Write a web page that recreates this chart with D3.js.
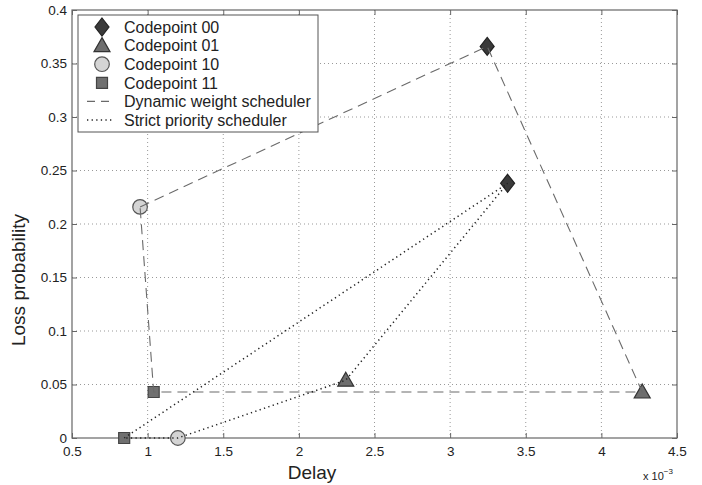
<!DOCTYPE html>
<html>
<head>
<meta charset="utf-8">
<script src="https://cdn.jsdelivr.net/npm/d3@7"></script>
<style>
  body { margin: 0; background: #fff; }
  text { font-family: "Liberation Sans", Arial, Helvetica, sans-serif; fill: #222; }
</style>
</head>
<body>
<script>
// data (delay in units of 1e-3 s)
var codepoints = ["Codepoint 00", "Codepoint 01", "Codepoint 10", "Codepoint 11"];
var dynDelay = [3.245, 4.27, 0.95, 1.04];
var dynLoss = [0.366, 0.043, 0.216, 0.043];
var strictDelay = [3.38, 2.31, 1.2, 0.845];
var strictLoss = [0.238, 0.054, 0, 0];
var dynOrder = [2, 0, 1, 3, 2];      // closed outline for dynamic weight scheduler
var strictOrder = [3, 0, 1, 2, 3];   // closed outline for strict priority scheduler
var xTicks = [0.5, 1, 1.5, 2, 2.5, 3, 3.5, 4, 4.5];
var yTicks = [0, 0.05, 0.1, 0.15, 0.2, 0.25, 0.3, 0.35, 0.4];
var legendLines = ["Dynamic weight scheduler", "Strict priority scheduler"];

var def_width = 702, def_height = 485;
var margin = {top: 10, right: 25, bottom: 47, left: 72},
    width = def_width - margin.left - margin.right,
    height = def_height - margin.top - margin.bottom;

var svg = d3.select("body").append("svg").attr("width", def_width).attr("height", def_height);
var g = svg.append("g").attr("transform", "translate(" + margin.left + "," + margin.top + ")");

var x = d3.scaleLinear().domain([0.5, 4.5]).range([0, width]),
    y = d3.scaleLinear().domain([0, 0.4]).range([height, 0]);

var fmt = function(d) { return d === 0 ? "0" : String(d); };

// grid
g.append("g").selectAll("line").data(xTicks.slice(1, -1)).enter().append("line")
  .attr("x1", function(d) { return x(d); }).attr("x2", function(d) { return x(d); })
  .attr("y1", 0).attr("y2", height)
  .style("stroke", "#999").style("stroke-width", 1).style("stroke-dasharray", "1,3");
g.append("g").selectAll("line").data(yTicks.slice(1, -1)).enter().append("line")
  .attr("y1", function(d) { return y(d); }).attr("y2", function(d) { return y(d); })
  .attr("x1", 0).attr("x2", width)
  .style("stroke", "#999").style("stroke-width", 1).style("stroke-dasharray", "1,3");

// axes (ticks inside, matlab style)
g.append("g").attr("transform", "translate(0," + height + ")")
  .call(d3.axisBottom(x).tickValues(xTicks).tickFormat(fmt).tickSizeInner(-5).tickSizeOuter(0).tickPadding(8));
g.append("g")
  .call(d3.axisLeft(y).tickValues(yTicks).tickFormat(fmt).tickSizeInner(-5).tickSizeOuter(0).tickPadding(5));
g.append("g").call(d3.axisTop(x).tickValues(xTicks).tickFormat("").tickSizeInner(-5).tickSizeOuter(0));
g.append("g").attr("transform", "translate(" + width + ",0)")
  .call(d3.axisRight(y).tickValues(yTicks).tickFormat("").tickSizeInner(-5).tickSizeOuter(0));
g.selectAll(".domain").remove();
g.selectAll(".tick line").style("stroke", "#666");
g.selectAll(".tick text").style("font-size", "13.5px").style("fill", "#222");

g.append("rect").attr("width", width).attr("height", height)
  .style("fill", "none").style("stroke", "#666").style("stroke-width", 1.2);

// markers
var symPath = function(i) {
  if (i === 0) return "M0,-9L7,0L0,9L-7,0Z";
  if (i === 1) return "M0,-8L8,6L-8,6Z";
  if (i === 2) return d3.symbol().type(d3.symbolCircle).size(Math.PI * 7.3 * 7.3)();
  return "M-5.5,-5.5H5.5V5.5H-5.5Z";
};
var symFill = ["#3a3a3a", "#6e6e6e", "#d4d4d4", "#707070"];
var symStroke = ["#222", "#333", "#555", "#444"];

var pts = [];
codepoints.forEach(function(c, i) {
  pts.push({i: i, dx: dynDelay[i], dy: dynLoss[i]});
  pts.push({i: i, dx: strictDelay[i], dy: strictLoss[i]});
});

g.selectAll(".mark").data(pts).enter().append("path")
  .attr("class", "mark")
  .attr("transform", function(d) { return "translate(" + x(d.dx) + "," + y(d.dy) + ")"; })
  .attr("d", function(d) { return symPath(d.i); })
  .style("fill", function(d) { return symFill[d.i]; })
  .style("stroke", function(d) { return symStroke[d.i]; })
  .style("stroke-width", 1.2);

// scheduler outlines
var line = d3.line().x(function(d) { return x(d[0]); }).y(function(d) { return y(d[1]); });
g.append("path")
  .datum(dynOrder.map(function(k) { return [dynDelay[k], dynLoss[k]]; }))
  .attr("d", line)
  .style("fill", "none").style("stroke", "#6a6a6a").style("stroke-width", 1.1)
  .style("stroke-dasharray", "10,6");
g.append("path")
  .datum(strictOrder.map(function(k) { return [strictDelay[k], strictLoss[k]]; }))
  .attr("d", line)
  .style("fill", "none").style("stroke", "#222").style("stroke-width", 1.5)
  .style("stroke-dasharray", "1.3,3.3");

// legend
var lg = g.append("g").attr("transform", "translate(6,5)");
lg.append("rect").attr("width", 240).attr("height", 117)
  .style("fill", "#fff").style("stroke", "#555").style("stroke-width", 1);
var rowY = function(k) { return 12 + k * 18.6; };
codepoints.forEach(function(c, i) {
  lg.append("path").attr("transform", "translate(24," + rowY(i) + ")")
    .attr("d", symPath(i))
    .style("fill", symFill[i]).style("stroke", symStroke[i]).style("stroke-width", 1.2);
  lg.append("text").attr("x", 46).attr("y", rowY(i)).attr("dy", "0.36em")
    .style("font-size", "16px").text(c);
});
legendLines.forEach(function(t, k) {
  var yy = rowY(4 + k);
  lg.append("line").attr("x1", 9).attr("x2", 35).attr("y1", yy).attr("y2", yy)
    .style("stroke", k === 0 ? "#6a6a6a" : "#222")
    .style("stroke-width", k === 0 ? 1.1 : 1.5)
    .style("stroke-dasharray", k === 0 ? "8,6" : "1.3,3.3");
  lg.append("text").attr("x", 46).attr("y", yy).attr("dy", "0.36em")
    .style("font-size", "16px").text(t);
});

// axis titles (placed as in the figure, not centred on the axes)
svg.append("text").attr("x", 312).attr("y", 479)
  .attr("text-anchor", "middle").style("font-size", "19px").text("Delay");
svg.append("text").attr("transform", "translate(25,280) rotate(-90)")
  .attr("text-anchor", "middle").style("font-size", "19px").text("Loss probability");

var sci = svg.append("text").attr("x", 643).attr("y", 480).style("font-size", "11px");
sci.append("tspan").text("x 10");
sci.append("tspan").attr("dy", -6).style("font-size", "8px").text("\u22123");
</script>
</body>
</html>
